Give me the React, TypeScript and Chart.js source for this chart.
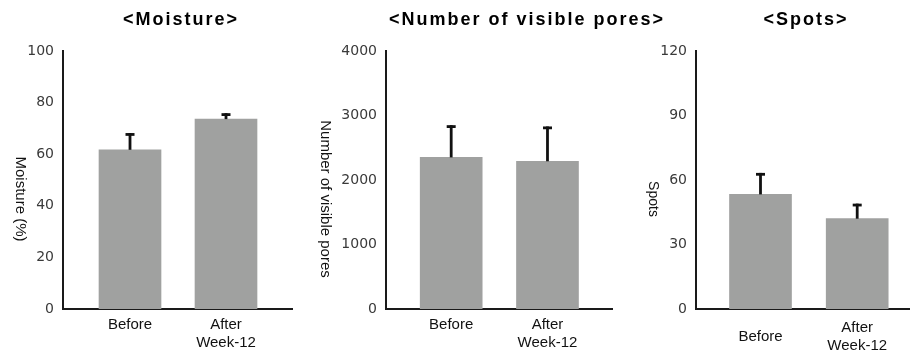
import { useEffect, useRef } from "react";
import { Chart, registerables } from "chart.js";

Chart.register(...registerables);

// ---- data ----
const CATEGORIES: (string | string[])[] = ["Before", ["After", "Week-12"]];
const CATEGORY_POS = [1, 2];

const MOISTURE_MEAN = [61.7, 73.6];
const MOISTURE_SD = [6.5, 2.3];
const MOISTURE_TICKS = [0, 20, 40, 60, 80, 100];

const PORES_MEAN = [2350, 2290];
const PORES_SD = [500, 540];
const PORES_TICKS = [0, 1000, 2000, 3000, 4000];

const SPOTS_MEAN = [53.3, 42.0];
const SPOTS_SD = [10, 7];
const SPOTS_TICKS = [0, 30, 60, 90, 120];

const TITLES = ["<Moisture>", "<Number of visible pores>", "<Spots>"];
const Y_TITLES = ["Moisture (%)", "Number of visible pores", "Spots"];

// ---- styles / layout ----
const BAR_COLOR = "#a0a1a0";
const AXIS_COLOR = "#1a1a1a";
const H = 352;
const AREA_TOP = 51;
const AREA_BOTTOM = 309;

type PanelCfg = {
  left: number;
  width: number;
  areaLeft: number;
  padRight: number;
  xMin: number;
  xMax: number;
  title: string;
  titleX: number;
  yTitle: string;
  yTitleX: number;
  yTitleSize: number;
  mean: number[];
  sd: number[];
  ticks: number[];
  labelPad: number;
  crossAlign: "near" | "center";
};

const PANELS: PanelCfg[] = [
  {
    left: 0, width: 300, areaLeft: 63, padRight: 8, xMin: 0.302, xMax: 2.6875,
    title: TITLES[0], titleX: 181, yTitle: Y_TITLES[0], yTitleX: 20, yTitleSize: 15,
    mean: MOISTURE_MEAN, sd: MOISTURE_SD, ticks: MOISTURE_TICKS, labelPad: 7, crossAlign: "near",
  },
  {
    left: 300, width: 380, areaLeft: 86, padRight: 68, xMin: 0.323, xMax: 2.67,
    title: TITLES[1], titleX: 227, yTitle: Y_TITLES[1], yTitleX: 25, yTitleSize: 15,
    mean: PORES_MEAN, sd: PORES_SD, ticks: PORES_TICKS, labelPad: 7, crossAlign: "near",
  },
  {
    left: 610, width: 300, areaLeft: 86, padRight: 0, xMin: 0.333, xMax: 2.546,
    title: TITLES[2], titleX: 196, yTitle: Y_TITLES[2], yTitleX: 43, yTitleSize: 14,
    mean: SPOTS_MEAN, sd: SPOTS_SD, ticks: SPOTS_TICKS, labelPad: 19, crossAlign: "center",
  },
];

const errorBarPlugin = {
  id: "errorBars",
  afterDatasetsDraw(chart: any) {
    const { ctx } = chart;
    const yScale = chart.scales.y;
    const ds: any = chart.data.datasets[0];
    const meta = chart.getDatasetMeta(0);
    ctx.save();
    ctx.strokeStyle = "#111111";
    ctx.lineWidth = 2.8;
    ctx.lineCap = "butt";
    meta.data.forEach((bar: any, i: number) => {
      const mean = ds.data[i].y;
      const top = yScale.getPixelForValue(mean + ds.errors[i]);
      ctx.beginPath();
      ctx.moveTo(bar.x, bar.y);
      ctx.lineTo(bar.x, top);
      ctx.stroke();
      ctx.beginPath();
      ctx.moveTo(bar.x - 4.5, top + 1.4);
      ctx.lineTo(bar.x + 4.5, top + 1.4);
      ctx.stroke();
    });
    ctx.restore();
  },
};

function makeTextPlugin(cfg: PanelCfg) {
  return {
    id: "panelText",
    afterDraw(chart: any) {
      const ctx = chart.ctx as CanvasRenderingContext2D;
      ctx.save();
      ctx.fillStyle = "#000000";
      ctx.textAlign = "center";
      ctx.textBaseline = "middle";
      ctx.font = 'bold 18px "Liberation Sans", Arial, sans-serif';
      (ctx as any).letterSpacing = "2px";
      ctx.fillText(cfg.title, cfg.titleX, 20);
      (ctx as any).letterSpacing = "0px";
      ctx.translate(cfg.yTitleX, 199);
      ctx.rotate(Math.PI / 2);
      ctx.font = `${cfg.yTitleSize}px "Liberation Sans", Arial, sans-serif`;
      ctx.fillStyle = "#111111";
      ctx.fillText(cfg.yTitle, 0, 0);
      ctx.restore();
    },
  };
}

function Panel({ cfg }: { cfg: PanelCfg }) {
  const ref = useRef<HTMLCanvasElement>(null);
  useEffect(() => {
    const canvas = ref.current;
    if (!canvas) return;
    const chart = new Chart(canvas, {
      type: "bar",
      data: {
        datasets: [
          {
            data: cfg.mean.map((v, i) => ({ x: CATEGORY_POS[i], y: v })),
            backgroundColor: BAR_COLOR,
            borderWidth: 0,
            barThickness: 62,
            errors: cfg.sd,
          } as any,
        ],
      },
      options: {
        responsive: false,
        animation: false,
        devicePixelRatio: 1,
        layout: { padding: { top: AREA_TOP, left: 0, right: cfg.padRight, bottom: 0 } },
        plugins: {
          legend: { display: false },
          tooltip: { enabled: false },
          title: { display: false },
        },
        scales: {
          x: {
            type: "linear",
            offset: false,
            min: cfg.xMin,
            max: cfg.xMax,
            grid: { display: false, drawTicks: false, offset: false },
            border: { display: true, color: AXIS_COLOR, width: 2 },
            afterBuildTicks: (s: any) => {
              s.ticks = CATEGORY_POS.map((v) => ({ value: v }));
            },
            afterFit: (s: any) => {
              s.height = H - AREA_BOTTOM;
            },
            ticks: {
              callback: (v: any) => CATEGORIES[CATEGORY_POS.indexOf(Number(v))] as any,
              maxRotation: 0,
              minRotation: 0,
              autoSkip: false,
              padding: cfg.labelPad,
              color: "#111111",
              crossAlign: cfg.crossAlign,
              font: { family: '"Liberation Sans", Arial, sans-serif', size: 15, lineHeight: 1.2 },
            },
          },
          y: {
            min: 0,
            max: cfg.ticks[cfg.ticks.length - 1],
            grid: { display: false, drawTicks: false },
            border: { display: true, color: AXIS_COLOR, width: 2 },
            afterBuildTicks: (s: any) => {
              s.ticks = cfg.ticks.map((v) => ({ value: v }));
            },
            afterFit: (s: any) => {
              s.width = cfg.areaLeft;
            },
            ticks: {
              callback: (v: any) => String(v),
              padding: 9,
              color: "#3a3a3a",
              font: { family: '"DejaVu Sans", Verdana, sans-serif', size: 14 },
            },
          },
        },
      } as any,
      plugins: [errorBarPlugin, makeTextPlugin(cfg)],
    });
    return () => chart.destroy();
  }, [cfg]);
  return (
    <canvas
      ref={ref}
      width={cfg.width}
      height={H}
      style={{ position: "absolute", left: cfg.left, top: 0, width: cfg.width, height: H }}
    />
  );
}

export default function App() {
  return (
    <div style={{ position: "absolute", left: 0, top: 0, width: 910, height: H, background: "#ffffff", overflow: "hidden" }}>
      {PANELS.map((p, i) => (
        <Panel key={i} cfg={p} />
      ))}
    </div>
  );
}
